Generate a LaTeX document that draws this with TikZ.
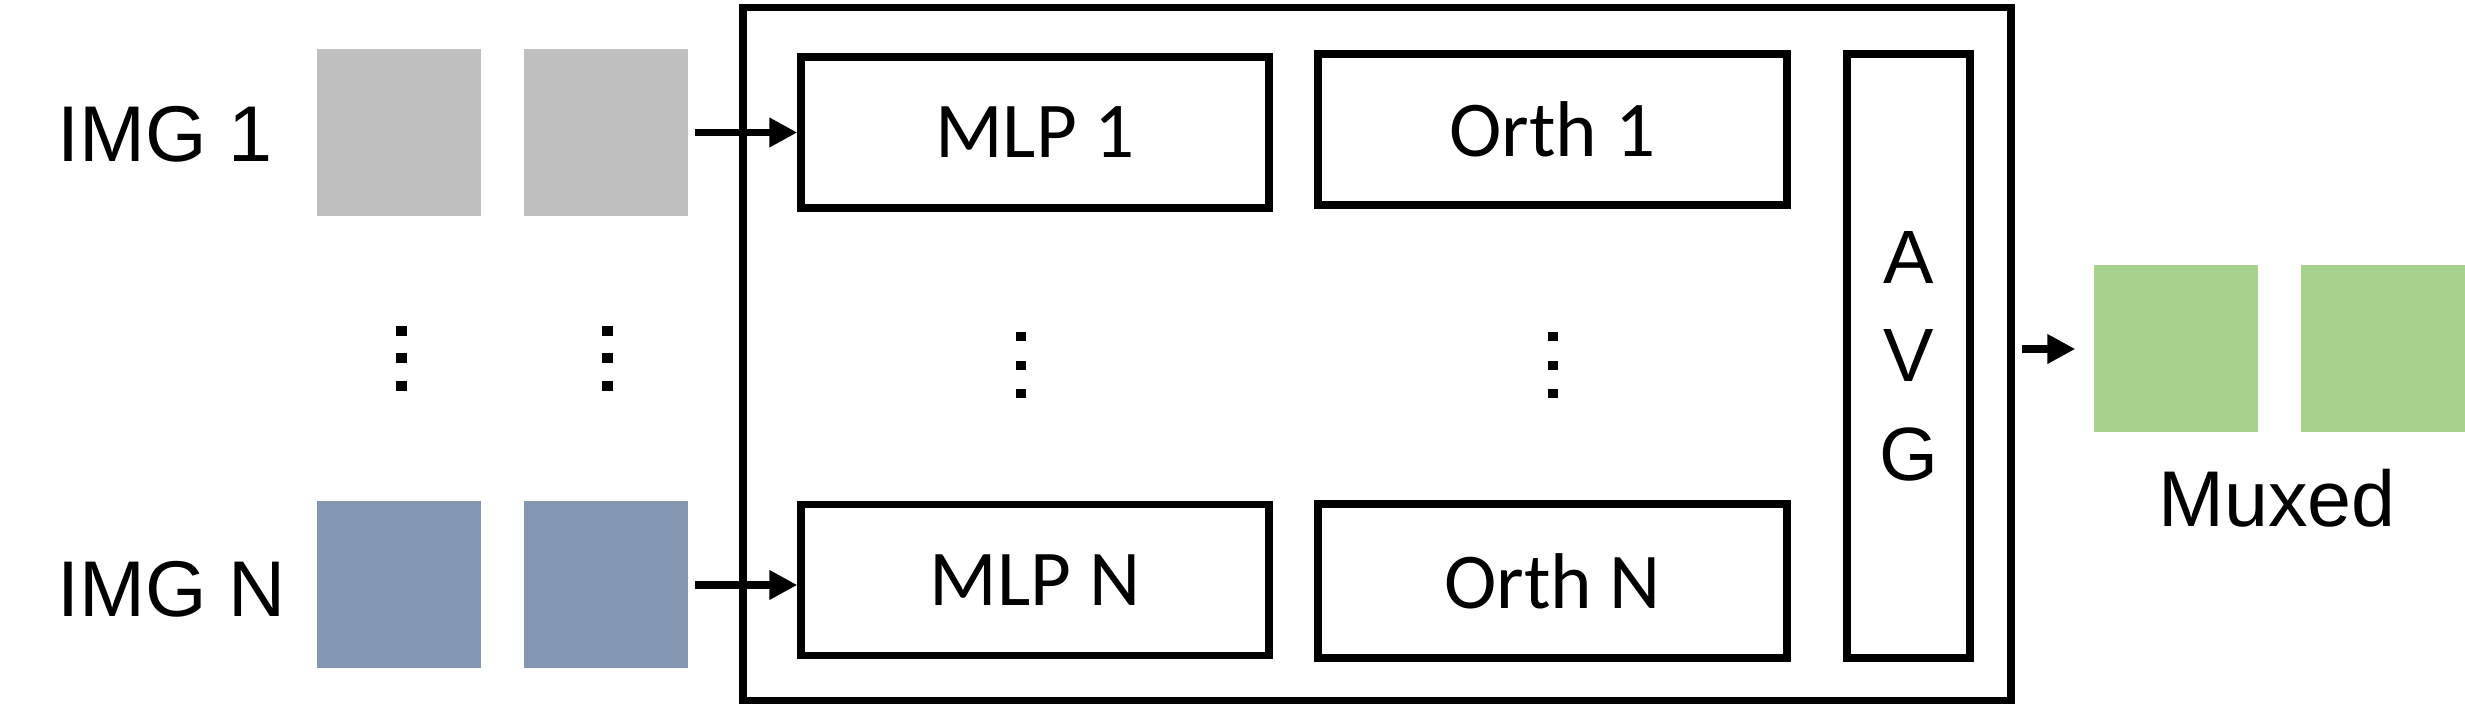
\documentclass[tikz,border=0pt]{standalone}
\usepackage{fontspec}
\setmainfont{Liberation Sans}
\newfontfamily\calibri{Carlito}
\usetikzlibrary{arrows.meta}

\definecolor{imggray}{HTML}{BFBFBF}
\definecolor{imgblue}{HTML}{8497B0}
\definecolor{muxgreen}{HTML}{A9D18E}

\begin{document}
\begin{tikzpicture}
    \useasboundingbox (0,0) rectangle (24.65,-7.05);
    \tikzset{
        patch/.style = {rectangle, inner sep=0, minimum width=1.64cm, minimum height=1.67cm},
        blk/.style = {draw, line width=2.1pt, inner sep=0, font=\calibri\fontsize{22.5}{27}\selectfont},
        lbl/.style = {inner sep=0, font=\fontsize{22.5}{27}\selectfont},
        arr/.style = {line width=2.1pt, -{Triangle[length=0.28cm, width=0.28cm]}}
    }
    \node[patch, fill=imggray] (img11) at (3.99,-1.325) {};
    \node[patch, fill=imggray] (img12) at (6.055,-1.325) {};
    \node[patch, fill=imgblue] (imgN1) at (3.99,-5.85) {};
    \node[patch, fill=imgblue] (imgN2) at (6.055,-5.85) {};
    \node[lbl, anchor=base west] (lbl1) at (0.57,-1.62) {IMG 1};
    \node[lbl, anchor=base west] (lblN) at (0.57,-6.17) {IMG N};

    \node[draw, line width=2.1pt, minimum width=12.68cm, minimum height=6.93cm] (enc) at (13.77,-3.54) {};
    \node[blk, minimum width=4.68cm, minimum height=1.51cm] (mlp1) at (10.35,-1.325) {MLP 1};
    \node[blk, minimum width=4.69cm, minimum height=1.51cm] (orth1) at (15.525,-1.295) {Orth 1};
    \node[blk, minimum width=4.68cm, minimum height=1.51cm] (mlpN) at (10.35,-5.8) {MLP N};
    \node[blk, minimum width=4.69cm, minimum height=1.54cm] (orthN) at (15.525,-5.81) {Orth N};
    \node[blk, font=\fontsize{21.5}{28}\selectfont, align=center, minimum width=1.23cm, minimum height=6.04cm] (avg) at (19.085,-3.56) {A\\V\\G};

    \node[patch, fill=muxgreen] (mux1) at (21.76,-3.49) {};
    \node[patch, fill=muxgreen] (mux2) at (23.83,-3.49) {};
    \node[lbl, anchor=base] (muxlbl) at (22.77,-5.27) {Muxed};

    \foreach \x in {4.01,6.07}
        \foreach \y in {3.31,3.58,3.86}
            \fill (\x-0.055,-\y-0.05) rectangle (\x+0.055,-\y+0.05);
    \foreach \x in {10.21,15.53}
        \foreach \y in {3.37,3.66,3.94}
            \fill (\x-0.05,-\y-0.045) rectangle (\x+0.05,-\y+0.045);

    \draw[arr, shorten <=0.07cm] (img12.east) -- (mlp1.west);
    \draw[arr, shorten <=0.07cm] (imgN2.east) -- (imgN2.east -| mlpN.west);
    \draw[arr, shorten <=0.07cm, shorten >=0.18cm] (enc.east |- mux1.west) -- (mux1.west);
\end{tikzpicture}
\end{document}
